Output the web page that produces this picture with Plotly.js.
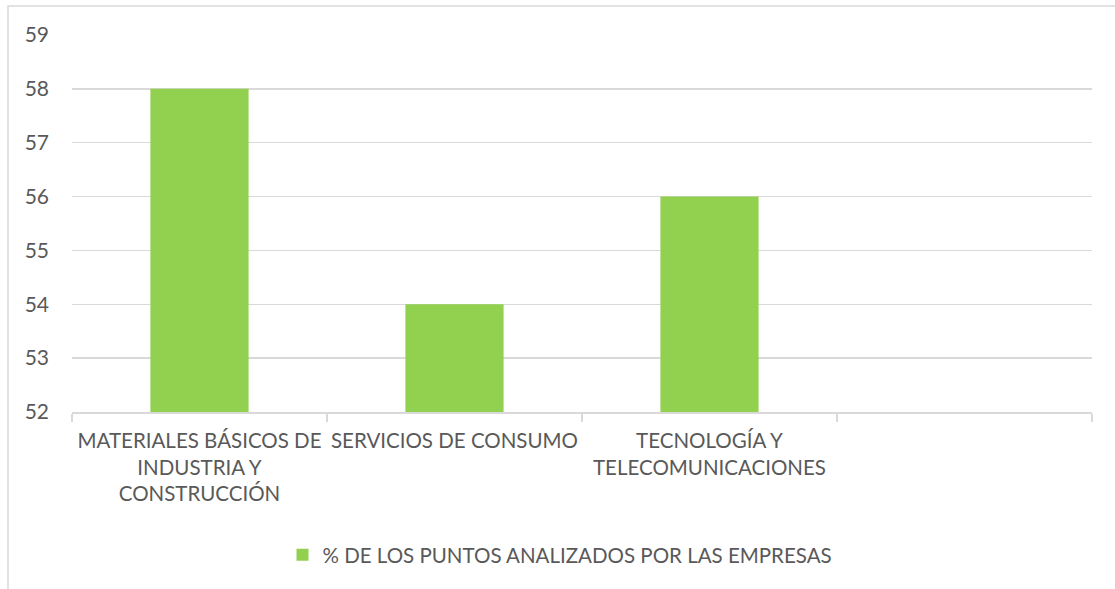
<!DOCTYPE html>
<html>
<head>
<meta charset="utf-8">
<script src="https://cdn.plot.ly/plotly-3.0.1.min.js"></script>
<style>html,body{margin:0;padding:0;background:#fff;}#chart{width:1115px;height:589px;}</style>
</head>
<body>
<div id="chart"></div>
<script>
const categories = [
  "MATERIALES BÁSICOS DE<br>INDUSTRIA Y<br>CONSTRUCCIÓN",
  "SERVICIOS DE CONSUMO",
  "TECNOLOGÍA Y<br>TELECOMUNICACIONES",
  " "
];
const values = [58, 54, 56, null];
const seriesName = "% DE LOS PUNTOS ANALIZADOS POR LAS EMPRESAS";
const yTicks = [52, 53, 54, 55, 56, 57, 58, 59];

const FONT = "Lato, 'Liberation Sans', sans-serif";
const TXT = "#595959";
const GRID = "#d9d9d9";

const trace = {
  type: "bar",
  x: categories,
  y: values,
  name: seriesName,
  marker: {color: "#92D050"},
  showlegend: true
};

const pl = 72, pr = 1092, pt = 35, pb = 412;
const pw = pr - pl, ph = pb - pt;
const px = v => (v - pl) / pw;
const py = v => (pb - v) / ph;

const layout = {
  width: 1115, height: 589,
  margin: {l: pl, r: 1115 - pr, t: pt, b: 589 - pb, pad: 0},
  paper_bgcolor: "#ffffff",
  plot_bgcolor: "#ffffff",
  font: {family: FONT, color: TXT, size: 20.5},
  bargap: 0.615,
  xaxis: {
    type: "category",
    categoryorder: "array",
    categoryarray: categories,
    tickson: "boundaries",
    ticks: "outside",
    ticklen: 8,
    tickcolor: GRID,
    tickwidth: 1.5,
    showline: true,
    linecolor: GRID,
    linewidth: 1.5,
    showgrid: false,
    tickangle: 0,
    tickfont: {family: FONT, size: 20.5, color: TXT},
    ticklabelstandoff: 10,
    fixedrange: true
  },
  yaxis: {
    range: [52, 59],
    tickvals: yTicks,
    ticktext: yTicks.map(String),
    showgrid: true,
    gridcolor: GRID,
    gridwidth: 1.5,
    zeroline: false,
    showline: false,
    ticks: "",
    tickfont: {family: FONT, size: 21, color: TXT},
    ticklabelstandoff: 22,
    fixedrange: true
  },
  legend: {
    orientation: "h",
    x: 0.5 - 22 / pw, xanchor: "center",
    y: py(555), yanchor: "middle",
    font: {family: FONT, size: 20.5, color: TXT},
    bgcolor: "rgba(0,0,0,0)"
  },
  shapes: [{
    type: "rect", xref: "paper", yref: "paper",
    x0: px(8), x1: px(1125), y0: py(600), y1: py(6),
    line: {color: GRID, width: 1.5}, fillcolor: "rgba(0,0,0,0)", layer: "below"
  }]
};

Plotly.newPlot("chart", [trace], layout, {displayModeBar: false, staticPlot: true});
</script>
</body>
</html>
